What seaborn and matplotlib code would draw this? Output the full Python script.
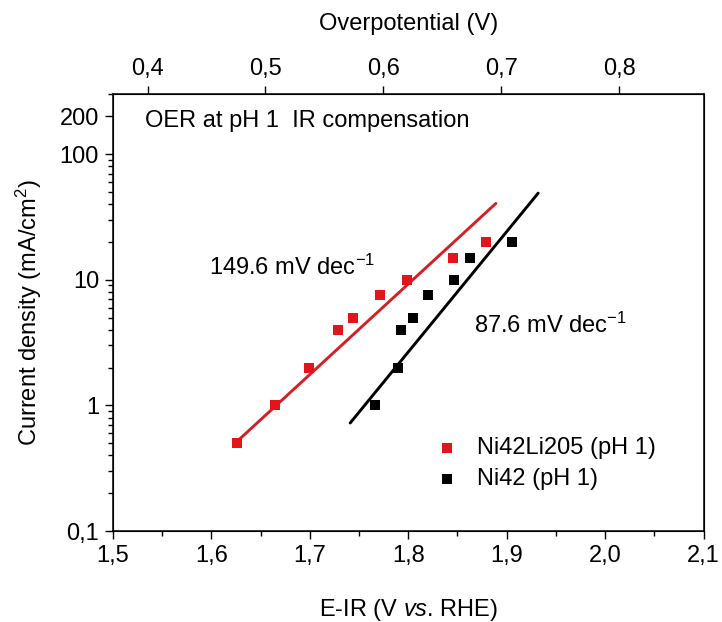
import matplotlib
matplotlib.use("Agg")
import matplotlib.pyplot as plt
import matplotlib.ticker as mticker
import seaborn as sns
import pandas as pd

# datos
red_E = [1.626, 1.665, 1.699, 1.729, 1.744, 1.771, 1.799, 1.845, 1.879]
red_j = [0.5, 1, 2, 4, 5, 7.5, 10, 15, 20]
black_E = [1.766, 1.790, 1.793, 1.805, 1.820, 1.846, 1.863, 1.905]
black_j = [1, 2, 4, 5, 7.5, 10, 15, 20]

# rectas de Tafel (extremos)
red_fit_E = [1.626, 1.889]
red_fit_j = [0.516, 40.5]
black_fit_E = [1.741, 1.932]
black_fit_j = [0.724, 48.9]

y_ticks = [0.1, 1, 10, 100, 200]
y_labels = ["0,1", "1", "10", "100", "200"]
x_ticks = [1.5, 1.6, 1.7, 1.8, 1.9, 2.0, 2.1]
x_labels = ["1,5", "1,6", "1,7", "1,8", "1,9", "2,0", "2,1"]
top_ticks = [0.4, 0.5, 0.6, 0.7, 0.8]
top_labels = ["0,4", "0,5", "0,6", "0,7", "0,8"]

RED = "#e3151b"
RED_LINE = "#d42024"

sns.set_style("ticks")
plt.rcParams["font.family"] = ["Liberation Sans", "DejaVu Sans"]
plt.rcParams["mathtext.fontset"] = "custom"
plt.rcParams["mathtext.rm"] = "Liberation Sans"
plt.rcParams["mathtext.it"] = "Liberation Sans:italic"
plt.rcParams["mathtext.default"] = "regular"
for k in ["text.color", "axes.labelcolor", "xtick.color", "ytick.color", "axes.edgecolor"]:
    plt.rcParams[k] = "black"
FS = 17

fig = plt.figure(figsize=(7.22, 6.22), dpi=100)
ax = fig.add_axes([0.1565, 0.1463, 0.8179, 0.7026])

df_red = pd.DataFrame({"E": red_E, "j": red_j})
df_black = pd.DataFrame({"E": black_E, "j": black_j})

sns.lineplot(x=red_fit_E, y=red_fit_j, color=RED_LINE, linewidth=2.1, ax=ax)
sns.lineplot(x=black_fit_E, y=black_fit_j, color="black", linewidth=2.1, ax=ax)
sns.scatterplot(df_red, x="E", y="j", marker="s", s=52, color=RED, linewidth=0,
                label="Ni42Li205 (pH 1)", ax=ax, zorder=3)
sns.scatterplot(df_black, x="E", y="j", marker="s", s=52, color="black", linewidth=0,
                label="Ni42 (pH 1)", ax=ax, zorder=3)

ax.set_yscale("log")
ax.set_xlim(1.5, 2.1)
ax.set_ylim(0.1, 301)
ax.yaxis.set_major_locator(mticker.FixedLocator(y_ticks))
ax.yaxis.set_major_formatter(mticker.FixedFormatter(y_labels))
ax.yaxis.set_minor_locator(mticker.LogLocator(base=10, subs=range(2, 10)))
ax.yaxis.set_minor_formatter(mticker.NullFormatter())
ax.set_xticks(x_ticks)
ax.set_xticklabels(x_labels)
ax.xaxis.set_minor_locator(mticker.MultipleLocator(0.05))
ax.tick_params(which="major", direction="out", length=6, width=1, labelsize=FS, pad=4,
               top=False, right=False)
ax.tick_params(which="minor", direction="out", length=3.5, width=1, top=False, right=False)
for s in ax.spines.values():
    s.set_visible(True)
    s.set_linewidth(1.1)
    s.set_color("black")

ax.set_xlabel("E-IR (V $\\mathit{vs}$. RHE)", fontsize=FS, labelpad=22)
ax.set_ylabel("Current density (mA/cm$^2$)", fontsize=FS, labelpad=11)

top = ax.twiny()
top.set_xlim(0.3707, 0.8717)
top.set_xticks(top_ticks)
top.set_xticklabels(top_labels)
top.tick_params(axis="x", direction="out", length=6, width=1, labelsize=FS, pad=4)
top.set_xlabel("Overpotential (V)", fontsize=FS, labelpad=20)

ax.text(0.054, 0.938, "OER at pH 1  IR compensation", transform=ax.transAxes,
        fontsize=FS, va="center", ha="left")
ax.text(0.163, 0.604, "149.6 mV dec$^{-1}$", transform=ax.transAxes,
        fontsize=FS, va="center", ha="left")
ax.text(0.611, 0.471, "87.6 mV dec$^{-1}$", transform=ax.transAxes,
        fontsize=FS, va="center", ha="left")

ax.legend(loc="upper left", bbox_to_anchor=(0.545, 0.215), frameon=False,
          fontsize=FS, handlelength=1.0, handletextpad=0.77, borderpad=0,
          borderaxespad=0, labelspacing=0.4, markerscale=1.0)

fig.savefig("out.png", dpi=100)
